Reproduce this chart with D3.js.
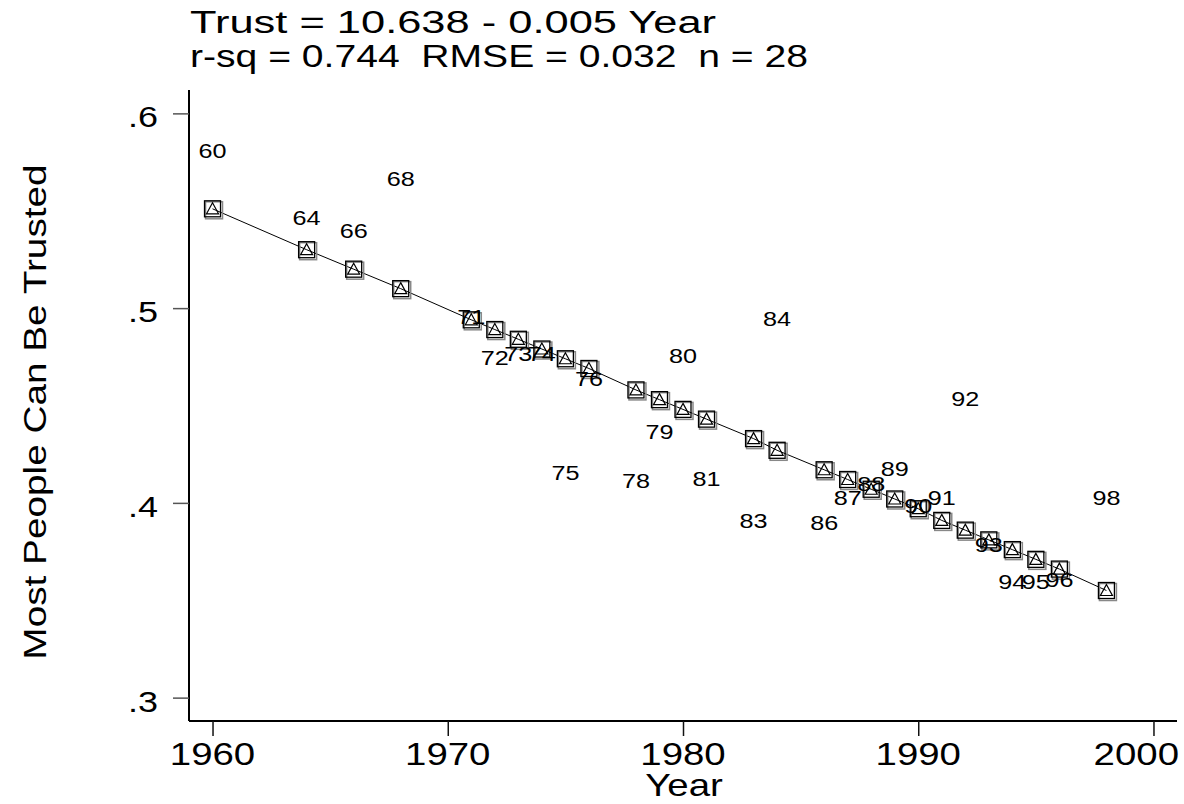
<!DOCTYPE html>
<html>
<head>
<meta charset="utf-8">
<script src="https://cdn.jsdelivr.net/npm/d3@7"></script>
<style>
  body { margin: 0; background: #fff; }
  text { font-family: "Liberation Sans", Arial, sans-serif; fill: #000; white-space: pre; }
</style>
</head>
<body>
<svg id="chart" width="1184" height="804"></svg>
<script>
// survey years and share saying most people can be trusted
const years = [1960, 1964, 1966, 1968, 1971, 1972, 1973, 1974, 1975, 1976, 1978, 1979, 1980, 1981,
               1983, 1984, 1986, 1987, 1988, 1989, 1990, 1991, 1992, 1993, 1994, 1995, 1996, 1998];
const trust = [0.581, 0.547, 0.540, 0.567, 0.496, 0.475, 0.477, 0.477, 0.416, 0.464, 0.4115, 0.437, 0.476, 0.413,
               0.391, 0.495, 0.390, 0.403, 0.410, 0.418, 0.399, 0.403, 0.454, 0.379, 0.360, 0.360, 0.361, 0.403];
// fitted values from the regression line
const fitted = [0.551, 0.530, 0.520, 0.510, 0.494, 0.489, 0.484, 0.479, 0.474, 0.469, 0.458, 0.453, 0.448, 0.443,
                0.433, 0.427, 0.417, 0.412, 0.407, 0.402, 0.397, 0.391, 0.386, 0.381, 0.376, 0.371, 0.366, 0.355];
const xTicks = [1960, 1970, 1980, 1990, 2000];
const yTicks = [0.3, 0.4, 0.5, 0.6];
const titleLines = ["Trust = 10.638 - 0.005 Year", "r-sq = 0.744  RMSE = 0.032  n = 28"];

const svg = d3.select("#chart");
const W = 1184;
const pLeft = 189, pRight = 1177, pTop = 90, pBottom = 721;

const x = d3.scaleLinear().domain([1959, 2001]).range([pLeft, pRight]);
const y = d3.scaleLinear().domain([0.288, 0.612]).range([pBottom, pTop]);

// stretched text helper (the original glyphs are wider than Arial)
function stext(g, str, px, py, size, sx, anchor) {
  return g.append("text")
    .attr("transform", `translate(${px},${py}) scale(${sx},1)`)
    .attr("font-size", size)
    .attr("text-anchor", anchor || "start")
    .text(str);
}

// axes
const xAxis = svg.append("g").attr("transform", `translate(0,${pBottom})`)
  .call(d3.axisBottom(x).tickValues(xTicks).tickSize(15).tickFormat(""));
xAxis.select(".domain").attr("d", `M${pLeft},0H${pRight}`).attr("stroke", "#000").attr("stroke-width", 2);
xAxis.selectAll(".tick line").attr("stroke", "#111").attr("stroke-width", 1.5);

const yAxis = svg.append("g").attr("transform", `translate(${pLeft},0)`)
  .call(d3.axisLeft(y).tickValues(yTicks).tickSize(16).tickFormat(""));
yAxis.select(".domain").attr("d", `M0,${pTop}V${pBottom}`).attr("stroke", "#000").attr("stroke-width", 2);
yAxis.selectAll(".tick line").attr("stroke", "#555").attr("stroke-width", 1.5);

// x tick labels, last one pushed inside the canvas like the original
xTicks.forEach(v => {
  const t = stext(svg, String(v), x(v), 765, 32, 1.2, "middle");
  const half = t.node().getComputedTextLength() * 1.2 / 2;
  const cx = Math.min(x(v), W - 5 - half);
  t.attr("transform", `translate(${cx},765) scale(1.2,1)`);
});
yTicks.forEach(v => stext(svg, d3.format(".1f")(v).replace(/^0/, ""), 158, y(v) + 14, 30, 1.2, "end"));

stext(svg, "Year", 684, 796, 32, 1.2, "middle");
svg.append("text")
  .attr("transform", `translate(46,412) rotate(-90) scale(1.25,1)`)
  .attr("font-size", 31)
  .attr("text-anchor", "middle")
  .text("Most People Can Be Trusted");

// title lines, widths taken from the original
const titleWidths = [526, 618];
titleLines.forEach((s, i) => {
  svg.append("text")
    .attr("x", 190).attr("y", 33 + i * 34)
    .attr("font-size", 31)
    .attr("textLength", titleWidths[i])
    .attr("lengthAdjust", "spacingAndGlyphs")
    .text(s);
});

// fitted line
const pts = years.map((yr, i) => [yr, fitted[i]]);
svg.append("path")
  .attr("d", d3.line().x(d => x(d[0])).y(d => y(d[1]))(pts))
  .attr("fill", "none").attr("stroke", "#000").attr("stroke-width", 1);

// fitted markers: square with a triangle inside
const mk = svg.append("g").selectAll("g").data(pts).join("g")
  .attr("transform", d => `translate(${x(d[0])},${y(d[1])})`);
mk.append("rect").attr("x", -7).attr("y", -7).attr("width", 17).attr("height", 17)
  .attr("fill", "none").attr("stroke", "#888").attr("stroke-width", 1.5);
mk.append("rect").attr("x", -8).attr("y", -8).attr("width", 16).attr("height", 16)
  .attr("fill", "none").attr("stroke", "#000").attr("stroke-width", 1.3);
mk.append("path").attr("d", "M0,-6L6,5H-6Z")
  .attr("fill", "none").attr("stroke", "#000").attr("stroke-width", 1.2);

// observed values shown as year labels
years.forEach((yr, i) => {
  stext(svg, String(yr).slice(2), x(yr), y(trust[i]) + 8, 21, 1.2, "middle");
});
</script>
</body>
</html>
